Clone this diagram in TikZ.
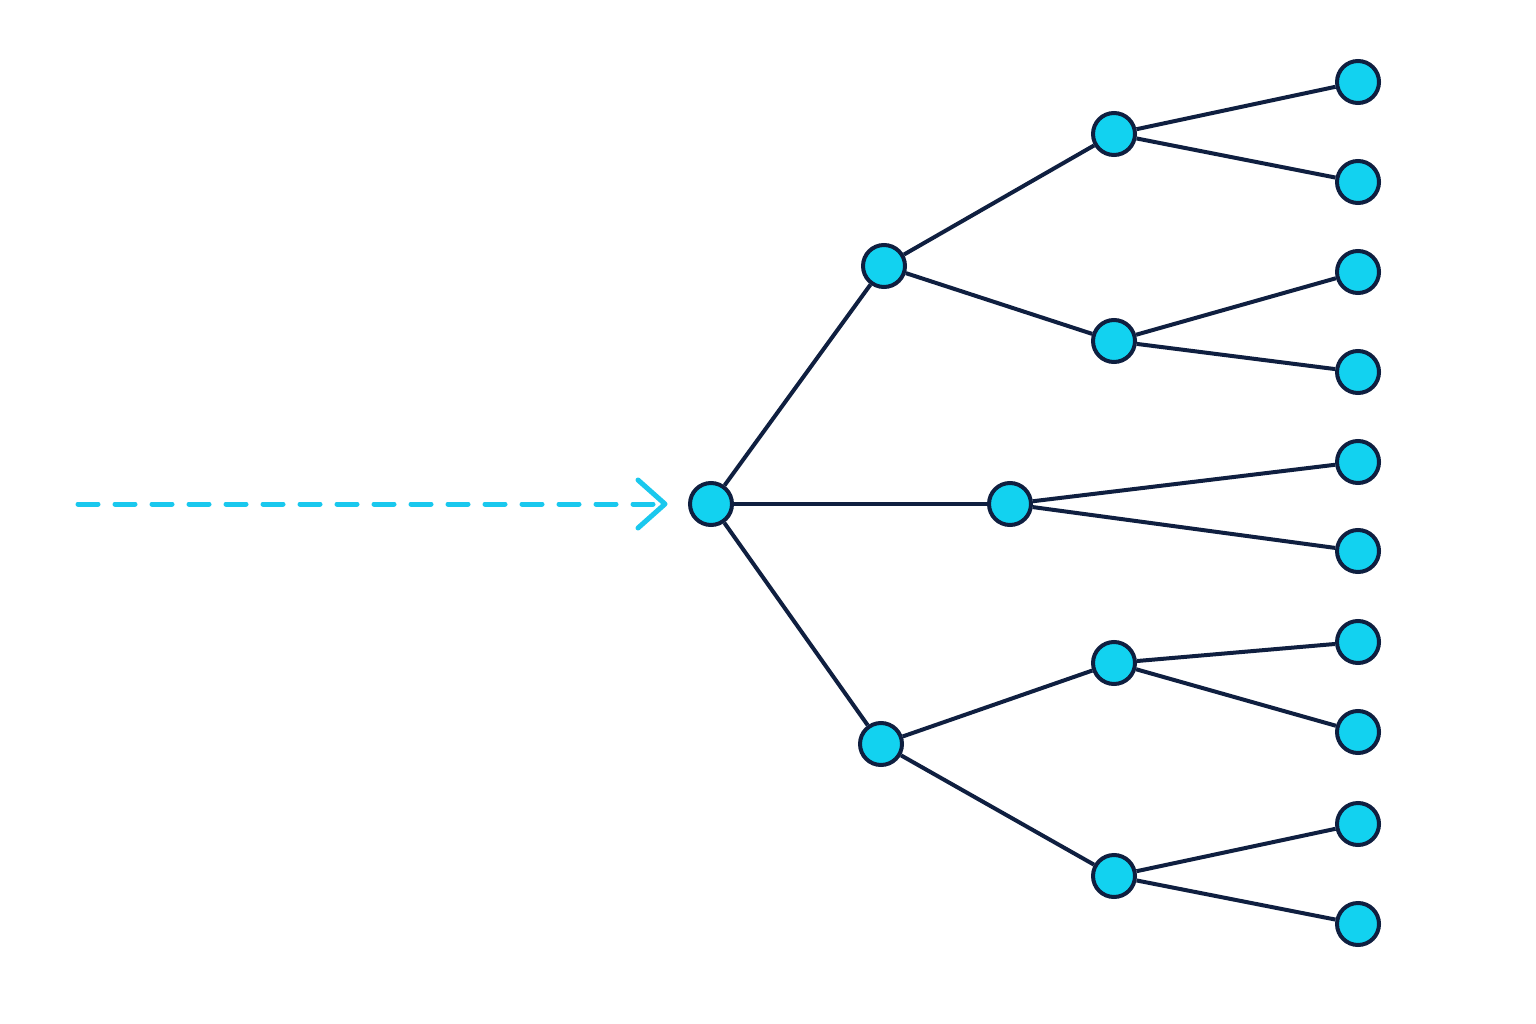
\documentclass[tikz,border=0pt]{standalone}
\usetikzlibrary{arrows.meta}
\definecolor{navy}{HTML}{0F1F40}
\definecolor{cyanf}{HTML}{12D2F0}
\definecolor{dashc}{HTML}{1AC8EE}
\begin{document}
\begin{tikzpicture}[x=1pt,y=-1pt,
  nd/.style={circle,draw=navy,fill=cyanf,line width=4pt,minimum size=42pt,inner sep=0pt},
  ed/.style={draw=navy,line width=4pt}]
\useasboundingbox[fill=white] (0,0) rectangle (1536,1024);
\node[nd] (r) at (711,504) {};
\node[nd] (a) at (884,266) {};
\node[nd] (b) at (1010,504) {};
\node[nd] (c) at (881,744) {};
\node[nd] (a1) at (1114,134) {};
\node[nd] (a2) at (1114,341) {};
\node[nd] (c1) at (1114,663) {};
\node[nd] (c2) at (1114,876) {};
\foreach \n/\y in {l1/82,l2/182,l3/272,l4/372,l5/462,l6/551,l7/642,l8/732,l9/824,l10/924}
  \node[nd] (\n) at (1358,\y) {};
\foreach \s/\t in {r/a,r/b,r/c,a/a1,a/a2,c/c1,c/c2,a1/l1,a1/l2,a2/l3,a2/l4,b/l5,b/l6,c1/l7,c1/l8,c2/l9,c2/l10}
  \draw[ed] (\s) -- (\t);
\coordinate (s) at (78,504);
\coordinate (e) at (665,504);
\draw[dashc,line width=5pt,dash pattern=on 20pt off 17pt,line cap=round] (s) -- ([xshift=-10pt]e);
\draw[dashc,line width=5pt,line cap=round,line join=round] (638,480) -- (e) -- (638,528);
\end{tikzpicture}
\end{document}
